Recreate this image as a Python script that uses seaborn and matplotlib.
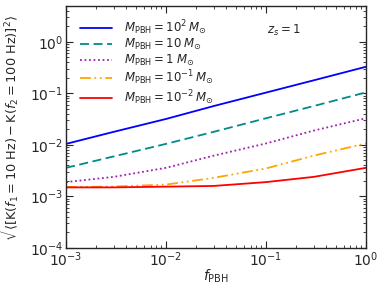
import matplotlib
matplotlib.use("Agg")
import matplotlib.pyplot as plt
import seaborn as sns

# f_PBH sample points
f_pbh = [1e-3, 3e-3, 1e-2, 3e-2, 1e-1, 3e-1, 1.0]

# sqrt(<[K(f1) - K(f2)]^2>)
k_m100 = [0.0105, 0.018, 0.032, 0.057, 0.104, 0.18, 0.33]
k_m10 = [0.0036, 0.006, 0.0105, 0.018, 0.033, 0.057, 0.105]
k_m1 = [0.0019, 0.0024, 0.0036, 0.0062, 0.0107, 0.019, 0.033]
k_m01 = [0.00152, 0.00156, 0.0017, 0.0023, 0.0035, 0.0062, 0.0107]
k_m001 = [0.0015, 0.0015, 0.00155, 0.0016, 0.0019, 0.0024, 0.0036]

labels = [r'$M_{\rm PBH} = 10^2\,M_{\odot}$', r'$M_{\rm PBH} = 10\;M_{\odot}$',
          r'$M_{\rm PBH} = 1\;M_{\odot}$', r'$M_{\rm PBH} = 10^{-1}\,M_{\odot}$',
          r'$M_{\rm PBH} = 10^{-2}\,M_{\odot}$']
colors = ['#0000ff', '#008b8b', '#a020b0', '#ffa500', '#ff0000']
styles = ['-', (0, (5, 2.5)), (0, (1, 1.5)), (0, (6, 2, 1, 2, 1, 2)), '-']

sns.set_style("ticks")
plt.rcParams['mathtext.fontset'] = 'dejavusans'

fig = plt.figure(figsize=(3.82, 2.85), dpi=100)
ax = fig.add_axes([0.173, 0.13, 0.785, 0.849])
ax.set_xscale('log')
ax.set_yscale('log')

for y, lab, c, ls in zip([k_m100, k_m10, k_m1, k_m01, k_m001], labels, colors, styles):
    sns.lineplot(x=f_pbh, y=y, ax=ax, color=c, linestyle=ls, lw=1.3, label=lab)

ax.set_xlim(1e-3, 1)
ax.set_ylim(1e-4, 5)
ax.tick_params(which='both', direction='in', top=True, right=True, labelsize=10, pad=2)
ax.tick_params(which='major', length=5, width=0.8)
ax.tick_params(which='minor', length=2.5, width=0.6)
for s in ax.spines.values():
    s.set_linewidth(1.0)

ax.set_xlabel(r'$f_{\rm PBH}$', fontsize=10, labelpad=-1)
ax.set_ylabel(r'$\sqrt{\langle[{\rm K}(f_1=10\ {\rm Hz})-{\rm K}(f_2=100\ {\rm Hz})]^2\rangle}$',
              fontsize=9.3, labelpad=0)
ax.yaxis.set_label_coords(-0.15, 0.5)
ax.text(0.67, 0.885, r'$z_s = 1$', transform=ax.transAxes, fontsize=8.5)
ax.legend(loc='upper left', frameon=False, fontsize=8.5, handlelength=2.7,
          handletextpad=1.0, labelspacing=0.05, borderaxespad=0.3,
          bbox_to_anchor=(0.02, 0.985))

fig.savefig('out.png', dpi=100)
